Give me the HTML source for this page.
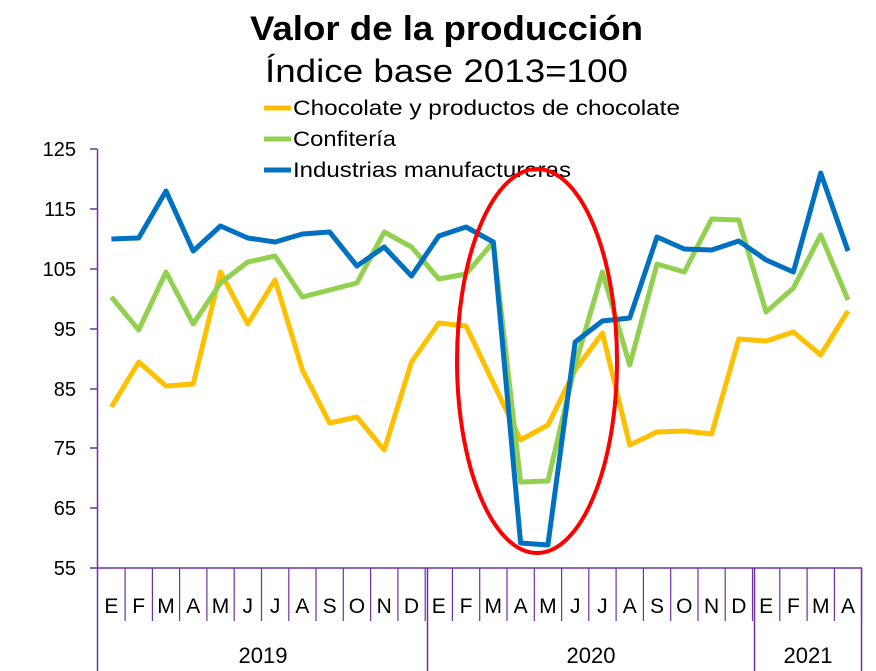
<!DOCTYPE html>
<html><head><meta charset="utf-8"><style>body{margin:0;background:#fff}svg{display:block}</style></head><body>
<svg width="876" height="671" xmlns="http://www.w3.org/2000/svg" font-family="Liberation Sans, sans-serif">
<text x="250" y="40" font-size="34" font-weight="bold" textLength="393" lengthAdjust="spacingAndGlyphs">Valor de la producción</text>
<text x="265" y="82" font-size="32" textLength="363" lengthAdjust="spacingAndGlyphs">Índice base 2013=100</text>
<g font-size="21" fill="#000">
<line x1="264" y1="108" x2="291" y2="108" stroke="#FFC000" stroke-width="5"/><text x="293" y="115" textLength="387" lengthAdjust="spacingAndGlyphs">Chocolate y productos de chocolate</text>
<line x1="264" y1="139" x2="291" y2="139" stroke="#92D050" stroke-width="5"/><text x="293" y="146" textLength="103" lengthAdjust="spacingAndGlyphs">Confitería</text>
<line x1="264" y1="170" x2="291" y2="170" stroke="#0070C0" stroke-width="5"/><text x="293" y="177" textLength="278" lengthAdjust="spacingAndGlyphs">Industrias manufactureras</text>
</g>
<g stroke="#7030A0" stroke-width="1.5">
<line x1="97.5" y1="149" x2="97.5" y2="671"/>
<line x1="90" y1="149" x2="97" y2="149"/><line x1="90" y1="209" x2="97" y2="209"/><line x1="90" y1="269" x2="97" y2="269"/><line x1="90" y1="329" x2="97" y2="329"/><line x1="90" y1="389" x2="97" y2="389"/><line x1="90" y1="448" x2="97" y2="448"/><line x1="90" y1="508" x2="97" y2="508"/>
<line x1="90" y1="568" x2="862" y2="568"/>
<line x1="427.5" y1="568" x2="427.5" y2="671"/><line x1="754.5" y1="568" x2="754.5" y2="671"/><line x1="861.5" y1="568" x2="861.5" y2="671"/>
</g>
<g id="ticks" stroke="#7030A0" stroke-width="1.2"></g>
<g font-size="20" text-anchor="end">
<text x="76" y="156">125</text><text x="76" y="216">115</text><text x="76" y="276">105</text><text x="76" y="336">95</text><text x="76" y="396">85</text><text x="76" y="455">75</text><text x="76" y="515">65</text><text x="76" y="575">55</text>
</g>
<g id="months" font-size="21" text-anchor="middle"></g>
<g font-size="22" text-anchor="middle"><text x="263" y="663">2019</text><text x="591" y="663">2020</text><text x="808" y="663">2021</text></g>
<g fill="none" stroke-width="5" stroke-linejoin="round">
<polyline id="y" stroke="#FFC000"/>
<polyline id="g" stroke="#92D050"/>
<polyline id="b" stroke="#0070C0"/>
</g>
<ellipse cx="537" cy="361" rx="80" ry="192" fill="none" stroke="#FF0000" stroke-width="4"/>
</svg>
<script>
var Y=[407,362,386,384,272,324,280,370,423,417,450,362,323,326,383,440,425,370,333,445,432,431,434,339,341,332,355,311];
var G=[297,330,272,324,283,262,256,297,290,283,232,247,279,274,242,482,481,365,272,365,264,272,219,220,312,288,235,300];
var B=[239,238,191,251,226,238,242,234,232,266,247,276,236,227,242,543,545,342,321,318,237,249,250,241,260,272,173,251];
function pts(a){return a.map(function(v,i){return (111.4+27.28*i).toFixed(1)+','+v}).join(' ')}
document.getElementById('y').setAttribute('points',pts(Y));
document.getElementById('g').setAttribute('points',pts(G));
document.getElementById('b').setAttribute('points',pts(B));
var M="EFMAMJJASONDEFMAMJJASONDEFMA",ns="http://www.w3.org/2000/svg",mg=document.getElementById('months'),tg=document.getElementById('ticks');
for(var i=0;i<28;i++){var t=document.createElementNS(ns,'text');t.setAttribute('x',(111.4+27.28*i).toFixed(1));t.setAttribute('y',613);t.textContent=M[i];mg.appendChild(t);
var l=document.createElementNS(ns,'line');var x=(97.8+27.28*(i+1)).toFixed(1);l.setAttribute('x1',x);l.setAttribute('x2',x);l.setAttribute('y1',568);l.setAttribute('y2',621);tg.appendChild(l);}
</script>
</body></html>
